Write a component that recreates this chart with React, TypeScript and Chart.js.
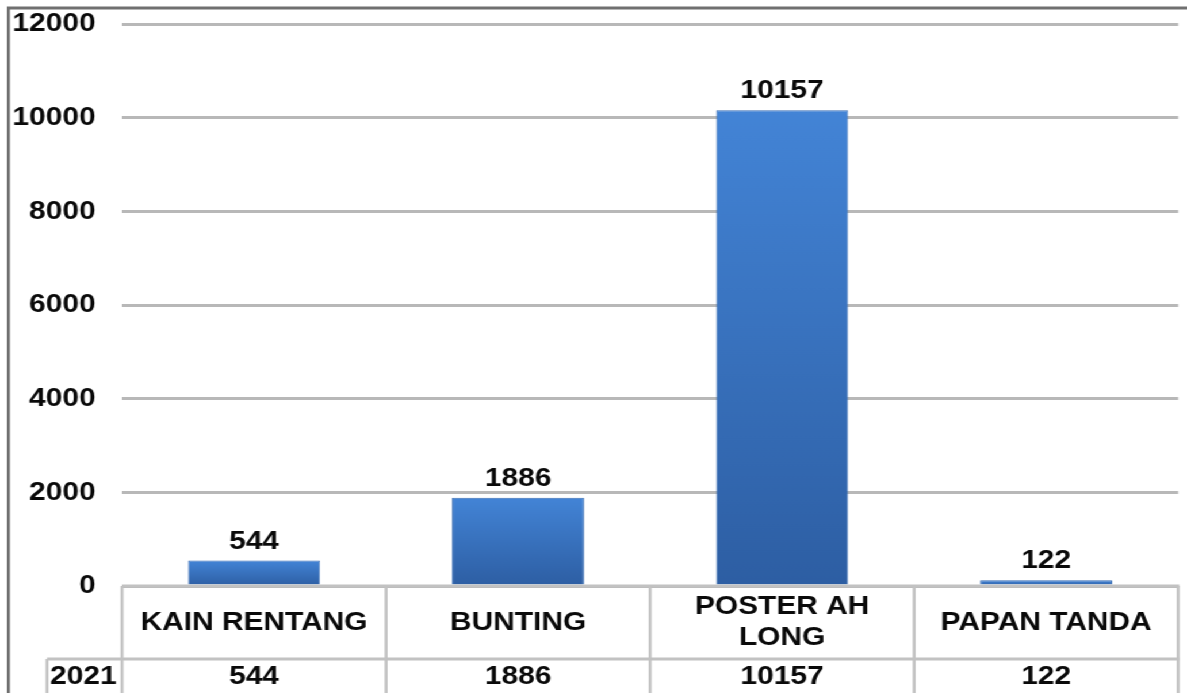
import React, { useEffect, useRef } from "react";
import { Chart, registerables } from "chart.js";

Chart.register(...registerables);

const categoryLines: string[][] = [["KAIN RENTANG"], ["BUNTING"], ["POSTER AH", "LONG"], ["PAPAN TANDA"]];
const seriesName = "2021";
const values: number[] = [544, 1886, 10157, 122];
const yTicks = { min: 0, max: 12000, step: 2000 };

const SCREEN_W = 1187;
const SCREEN_H = 693;
const STRETCH = 1.15;
const W = Math.round(SCREEN_W / STRETCH);
const FONT = "'Liberation Sans', Arial, sans-serif";

export default function App() {
  const ref = useRef<HTMLCanvasElement | null>(null);

  useEffect(() => {
    const canvas = ref.current;
    if (!canvas) return;

    const labelsPlugin = {
      id: "barLabels",
      afterDatasetsDraw(chart: any) {
        const ctx = chart.ctx;
        const meta = chart.getDatasetMeta(0);
        ctx.save();
        ctx.font = `bold 26px ${FONT}`;
        ctx.fillStyle = "#0a0a0a";
        ctx.textAlign = "center";
        ctx.textBaseline = "alphabetic";
        meta.data.forEach((el: any, i: number) => {
          ctx.fillText(String(values[i]), el.x, el.y - 12);
        });
        ctx.restore();
      },
    };

    const tablePlugin = {
      id: "dataTable",
      afterDraw(chart: any) {
        const ctx = chart.ctx;
        const { left, right, bottom } = chart.chartArea;
        const xs = chart.scales.x;
        const n = values.length;
        const colW = (right - left) / n;
        const rowSep = 659;
        const cellLeft = 47 / STRETCH;
        ctx.save();
        ctx.strokeStyle = "#c2c2c2";
        ctx.lineWidth = 3;
        ctx.beginPath();
        ctx.moveTo(left, bottom);
        ctx.lineTo(right + 1, bottom);
        ctx.moveTo(cellLeft, rowSep);
        ctx.lineTo(right + 1, rowSep);
        ctx.stroke();
        ctx.lineWidth = 2.6;
        ctx.beginPath();
        for (let i = 0; i <= n; i++) {
          const x = left + i * colW;
          ctx.moveTo(x, bottom);
          ctx.lineTo(x, SCREEN_H);
        }
        ctx.moveTo(cellLeft, rowSep);
        ctx.lineTo(cellLeft, SCREEN_H);
        ctx.stroke();

        ctx.font = `bold 26px ${FONT}`;
        ctx.fillStyle = "#0a0a0a";
        ctx.textAlign = "center";
        ctx.textBaseline = "middle";
        const rowMid = (bottom + rowSep) / 2;
        categoryLines.forEach((lines, i) => {
          const cx = xs.getPixelForValue(i);
          const lh = 31.5;
          const start = rowMid - ((lines.length - 1) * lh) / 2;
          lines.forEach((ln, j) => ctx.fillText(ln, cx, start + j * lh));
          ctx.fillText(String(values[i]), cx, 677);
        });
        ctx.fillText(seriesName, (cellLeft + left) / 2 - 1, 677);

        ctx.strokeStyle = "#707070";
        ctx.lineWidth = 3;
        ctx.beginPath();
        ctx.moveTo(6, 8);
        ctx.lineTo(W, 8);
        ctx.stroke();
        ctx.lineWidth = 2.6;
        ctx.beginPath();
        ctx.moveTo(7.3, 8);
        ctx.lineTo(7.3, SCREEN_H);
        ctx.stroke();
        ctx.restore();
      },
    };

    const chart = new Chart(canvas, {
      type: "bar",
      data: {
        labels: categoryLines.map((l) => l.join(" ")),
        datasets: [
          {
            label: seriesName,
            data: values,
            backgroundColor: (c: any) => {
              const ch = c.chart;
              if (!ch.chartArea || c.type !== "data" || !ch.scales.y) return "#3d7cc9";
              const y = ch.scales.y;
              const top = y.getPixelForValue(c.parsed ? c.parsed.y : values[c.dataIndex]);
              const base = y.getPixelForValue(0);
              const g = ch.ctx.createLinearGradient(0, top, 0, Math.max(base, top + 1));
              g.addColorStop(0, "#4384d6");
              g.addColorStop(1, "#2d5ea3");
              return g;
            },
            borderColor: "#386db4",
            borderWidth: 1,
            barPercentage: 0.5,
            categoryPercentage: 1,
          },
        ],
      },
      options: {
        animation: false,
        responsive: false,
        devicePixelRatio: 1,
        layout: { padding: { top: 24, bottom: SCREEN_H - 586, left: 0, right: W - 1178 / STRETCH } },
        plugins: { legend: { display: false }, tooltip: { enabled: false } },
        scales: {
          x: { display: false, grid: { display: false } },
          y: {
            min: yTicks.min,
            max: yTicks.max,
            afterFit: (s: any) => {
              s.width = 122 / STRETCH;
              s.paddingTop = 0;
              s.paddingBottom = 0;
            },
            border: { display: false },
            grid: { color: "#b8b8b8", lineWidth: 3, drawTicks: false },
            ticks: {
              stepSize: yTicks.step,
              padding: 23,
              color: "#0a0a0a",
              font: { family: FONT, size: 26, weight: "bold" },
              callback: (v: any) => String(v),
            },
          },
        },
      },
      plugins: [labelsPlugin, tablePlugin],
    });
    return () => chart.destroy();
  }, []);

  return (
    <div
      style={{
        position: "fixed",
        left: 0,
        top: 0,
        width: W,
        height: SCREEN_H,
        transform: `scaleX(${SCREEN_W / W})`,
        transformOrigin: "0 0",
        background: "#fff",
      }}
    >
      <canvas ref={ref} width={W} height={SCREEN_H} style={{ display: "block" }} />
    </div>
  );
}
